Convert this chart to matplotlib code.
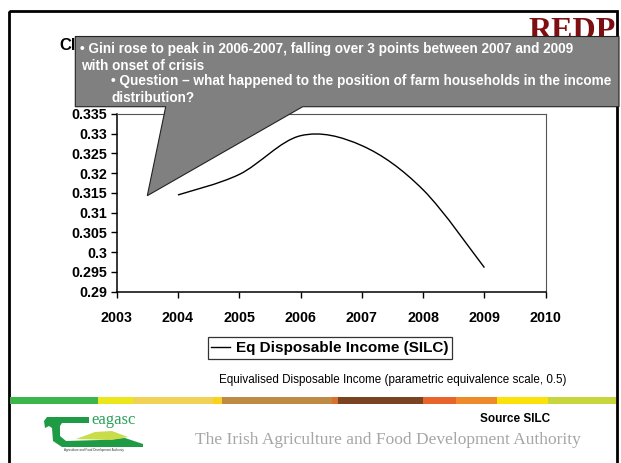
import matplotlib
matplotlib.use("Agg")
import matplotlib.pyplot as plt
from matplotlib.path import Path
from matplotlib.patches import PathPatch, Rectangle, Polygon
from matplotlib.lines import Line2D
import numpy as np

# ---- data ----
years = [2004, 2005, 2006, 2007, 2008, 2009]
gini = [0.3145, 0.3197, 0.3295, 0.3270, 0.3158, 0.2961]
series_label = "Eq Disposable Income (SILC)"
x_ticks = [2003, 2004, 2005, 2006, 2007, 2008, 2009, 2010]
y_ticks = [0.29, 0.295, 0.3, 0.305, 0.31, 0.315, 0.32, 0.325, 0.33, 0.335]
y_tick_labels = ["0.29", "0.295", "0.3", "0.305", "0.31", "0.315", "0.32", "0.325", "0.33", "0.335"]
callout_lines = [
    "\u2022 Gini rose to peak in 2006-2007, falling over 3 points between 2007 and 2009",
    "with onset of crisis",
    "\u2022 Question \u2013 what happened to the position of farm households in the income",
    "distribution?",
]
subtitle = "Equivalised Disposable Income (parametric equivalence scale, 0.5)"
source_text = "Source SILC"
authority_text = "The Irish Agriculture and Food Development Authority"

plt.rcParams['font.family'] = ['Liberation Sans', 'DejaVu Sans']

W, H = 621, 463
fig = plt.figure(figsize=(W / 100, H / 100), dpi=100)
fig.patch.set_facecolor('white')

# main plot axes (pixel box -> figure fraction)
L, R, T, B = 116.7, 545.7, 114.0, 291.7
ax = fig.add_axes([L / W, 1 - B / H, (R - L) / W, (B - T) / H], zorder=1)
ax.set_xlim(2003, 2010)
ax.set_ylim(0.29, 0.335)
ax.set_xticks(x_ticks)
ax.set_xticklabels([str(v) for v in x_ticks])
ax.set_yticks(y_ticks)
ax.set_yticklabels(y_tick_labels)
for lab in ax.get_xticklabels() + ax.get_yticklabels():
    lab.set_fontweight('bold')
    lab.set_fontsize(10.3)
ax.tick_params(axis='y', direction='out', length=4, width=1, pad=3, colors='black')
ax.tick_params(axis='x', direction='out', length=4, width=1, pad=10, colors='black')
for s in ['left', 'bottom']:
    ax.spines[s].set_color('black')
    ax.spines[s].set_linewidth(1.1)
for s in ['top', 'right']:
    ax.spines[s].set_color('#555555')
    ax.spines[s].set_linewidth(0.8)

# smoothed line (Excel-style Bezier smoothing through the data points)
xs = np.array(years, dtype=float)
ys = np.array(gini, dtype=float)
n = len(xs)
verts = [(xs[0], ys[0])]
codes = [Path.MOVETO]
for i in range(n - 1):
    p0 = (xs[max(i - 1, 0)], ys[max(i - 1, 0)])
    p1 = (xs[i], ys[i])
    p2 = (xs[i + 1], ys[i + 1])
    p3 = (xs[min(i + 2, n - 1)], ys[min(i + 2, n - 1)])
    c1 = (p1[0] + (p2[0] - p0[0]) / 6, p1[1] + (p2[1] - p0[1]) / 6)
    c2 = (p2[0] - (p3[0] - p1[0]) / 6, p2[1] - (p3[1] - p1[1]) / 6)
    verts += [c1, c2, p2]
    codes += [Path.CURVE4] * 3
ax.add_patch(PathPatch(Path(verts, codes), facecolor='none', edgecolor='black', lw=1.0))

# legend
handle = Line2D([], [], color='black', lw=1.0)
leg = fig.legend([handle], [series_label], loc='center',
                 bbox_to_anchor=(329.8 / W, 1 - 348.3 / H),
                 frameon=True, fancybox=False, shadow=False,
                 prop={'weight': 'bold', 'size': 11},
                 handlelength=1.2, handletextpad=0.4, borderpad=0.25,
                 borderaxespad=0)
leg.get_frame().set_edgecolor('black')
leg.get_frame().set_linewidth(0.9)

# overlay in pixel coordinates for slide decorations
ov = fig.add_axes([0, 0, 1, 1], zorder=3)
ov.set_xlim(0, W)
ov.set_ylim(H, 0)
ov.axis('off')
ov.patch.set_alpha(0)

# slide frame
ov.add_patch(Rectangle((9, 10.5), 608, 480, fill=False, edgecolor='black', lw=2.0, clip_on=False))

# REDP logo text
ov.text(528, 39, "REDP", fontfamily='Liberation Serif', fontweight='bold', fontsize=23,
        color='#7d0f12', ha='left', va='baseline')

# title fragment
ov.text(59, 46, "Cl", fontweight='bold', fontsize=12, color='black', ha='left', va='center')

# callout
callout = Polygon([(75.3, 36.5), (619, 36.5), (619, 106.7), (302.7, 106.7), (147.3, 195.7),
                   (165.7, 106.7), (75.3, 106.7)], closed=True,
                  facecolor='#808080', edgecolor='#222222', lw=0.8, zorder=4)
ov.add_patch(callout)
line_pos = [(80, 49.5), (81, 65.5), (111, 81.5), (111, 97.5)]
for (tx, ty), txt in zip(line_pos, callout_lines):
    ov.text(tx, ty, txt, color='white', fontweight='bold', fontsize=9.8,
            ha='left', va='center', zorder=5)

# subtitle
ov.text(219.3, 380, subtitle, fontsize=8.4, color='black', ha='left', va='center')

# colored stripe
stripe = [
    (10, 97.7, '#3cb54a'), (97.7, 133.3, '#ece61c'), (133.3, 213, '#f2d254'),
    (213, 221.7, '#f8d21c'), (221.7, 331.7, '#bf8a44'), (331.7, 338.3, '#d9702c'),
    (338.3, 423.3, '#7a4422'), (423.3, 456, '#e8642a'), (456, 496.7, '#ef8a2a'),
    (496.7, 548.3, '#fbe30a'), (548.3, 616, '#c6d63c'),
]
for x0, x1, c in stripe:
    ov.add_patch(Rectangle((x0, 396.5), x1 - x0, 7, facecolor=c, edgecolor='none'))

# source and authority text
ov.text(515, 418.5, source_text, fontweight='bold', fontsize=8.5, ha='center', va='center')
ov.text(195, 440, authority_text, fontfamily='Liberation Serif', fontsize=12.5,
        color='#a6a6a6', ha='left', va='center')

# Teagasc logo (simplified)
ov.add_patch(Polygon([(47, 417), (89, 417), (89, 423), (62, 423), (60, 426), (60, 436),
                      (66, 441), (100, 440), (125, 438), (143, 444), (143, 447), (62, 447),
                      (53, 441), (52, 428), (49, 426), (45, 428), (44, 421)],
                     closed=True, facecolor='#1f9a45', edgecolor='none'))
ov.add_patch(Polygon([(76, 439), (95, 432), (112, 431), (128, 437), (112, 440)],
                     closed=True, facecolor='#c9dc4a', edgecolor='none'))
ov.text(91, 420, "eagasc", fontfamily='Liberation Serif', fontsize=12, color='#2aa05a',
        ha='left', va='center')
ov.text(94, 449.5, "Agriculture and Food Development Authority", fontsize=2.2,
        color='#333333', ha='center', va='center')

fig.savefig("out.png", dpi=100, facecolor='white')
